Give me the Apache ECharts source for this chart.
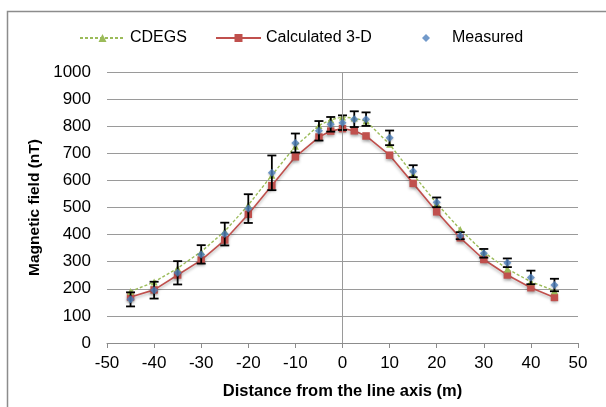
<!DOCTYPE html>
<html>
<head>
<meta charset="utf-8">
<script src="https://cdn.jsdelivr.net/npm/echarts@6/dist/echarts.min.js"></script>
<style>
html,body{margin:0;padding:0;background:#fff;}
#chart{width:606px;height:407px;}
</style>
</head>
<body>
<div id="chart"></div>
<script>
var distances = [-45,-40,-35,-30,-25,-20,-15,-10,-5,-2.5,0,2.5,5,10,15,20,25,30,35,40,45];
var cdegsValues = [190,225,276,337,412,509,619,726,803,824,834,830,819,733,622,515,419,335,273,226,193];
var calculatedValues = [170,196,251,306,380,475,581,687,760,782,791,783,764,693,589,484,388,308,251,204,168];
var measuredValues = [161,195,259,327,402,496,628,738,783,807,813,826,826,757,634,519,396,331,296,242,214];
var measuredErrors = [26,31,43,34,42,53,64,35,36,27,27,29,25,27,22,18,13,16,16,25,23];
var seriesNames = ['CDEGS','Calculated 3-D','Measured'];
var xTitle = 'Distance from the line axis (m)';
var yTitle = 'Magnetic field (nT)';

function pairs(vals){ return distances.map(function(d,i){ return [d, vals[i]]; }); }
var errData = distances.map(function(d,i){ return [d, measuredValues[i]-measuredErrors[i], measuredValues[i]+measuredErrors[i]]; });

var FONT = 'Liberation Sans, Arial, sans-serif';
var chart = echarts.init(document.getElementById('chart'), null, {renderer:'canvas'});
var legendText = {fontFamily: FONT, fontSize: 16, color: '#000'};
chart.setOption({
  animation: false,
  graphic: [{type:'rect', shape:{x:7.5,y:11.5,width:700,height:500}, style:{fill:'none', stroke:'#8c8c8c', lineWidth:1.5}, silent:true, z:-10}],
  legend: [
    {data:[seriesNames[0]], left:79, top:30, padding:0, itemWidth:45, itemHeight:10, itemGap:5, textStyle:legendText},
    {data:[seriesNames[1]], left:215, top:30, padding:0, itemWidth:45, itemHeight:10, itemGap:5, textStyle:legendText},
    {data:[{name:seriesNames[2], icon:'diamond'}], left:422, top:30, padding:0, itemWidth:8, itemHeight:8, itemGap:5,
     textStyle:{fontFamily: FONT, fontSize: 16, color: '#000', padding:[0,0,0,17]}}
  ],
  grid: {left:107, right:28, top:72, bottom:64, containLabel:false},
  xAxis: {
    type:'value', min:-50, max:50, interval:10,
    name: xTitle, nameLocation:'middle', nameGap:40,
    nameTextStyle:{fontFamily:FONT, fontSize:16.5, fontWeight:'bold', color:'#000'},
    axisLine:{show:true, onZero:false, lineStyle:{color:'#8c8c8c', width:1}},
    axisTick:{show:true, length:5, lineStyle:{color:'#8c8c8c'}},
    axisLabel:{fontFamily:FONT, fontSize:17, color:'#000', margin:12},
    splitLine:{show:false}
  },
  yAxis: {
    type:'value', min:0, max:1000, interval:100,
    name: yTitle, nameLocation:'middle', nameGap:64,
    nameTextStyle:{fontFamily:FONT, fontSize:15.5, fontWeight:'bold', color:'#000'},
    axisLine:{show:false}, axisTick:{show:false},
    axisLabel:{fontFamily:FONT, fontSize:17, color:'#000', margin:16, formatter:function(v){return String(v);}},
    splitLine:{show:true, lineStyle:{color:'#9a9a9a', width:1}}
  },
  series: [
    {
      name: seriesNames[1], type:'line', data: pairs(calculatedValues),
      symbol:'rect', symbolSize:7.5, showSymbol:true,
      lineStyle:{color:'#c0504d', width:1.6, shadowColor:'rgba(0,0,0,0.3)', shadowBlur:3, shadowOffsetY:2},
      itemStyle:{color:'#c0504d', shadowColor:'rgba(0,0,0,0.3)', shadowBlur:3, shadowOffsetY:2},
      z:2
    },
    {
      name: seriesNames[0], type:'line', data: pairs(cdegsValues),
      symbol:'triangle', symbolSize:7,
      lineStyle:{color:'#9bbb59', width:1.4, type:[3,2]},
      itemStyle:{color:'#9bbb59'},
      z:3,
      markLine:{silent:true, symbol:'none', label:{show:false}, lineStyle:{color:'#9a9a9a', width:1, type:'solid'}, data:[{xAxis:0}]}
    },
    {
      name:'errors', type:'custom', data: errData, z:4,
      renderItem: function(params, api){
        var x = api.value(0);
        var lo = api.coord([x, api.value(1)]);
        var hi = api.coord([x, api.value(2)]);
        var hw = 4.5;
        var st = {stroke:'#000', lineWidth:1.8};
        return {type:'group', children:[
          {type:'line', shape:{x1:lo[0],y1:lo[1],x2:hi[0],y2:hi[1]}, style:st},
          {type:'line', shape:{x1:lo[0]-hw,y1:lo[1],x2:lo[0]+hw,y2:lo[1]}, style:st},
          {type:'line', shape:{x1:hi[0]-hw,y1:hi[1],x2:hi[0]+hw,y2:hi[1]}, style:st}
        ]};
      }
    },
    {
      name: seriesNames[2], type:'scatter', data: pairs(measuredValues),
      symbol:'diamond', symbolSize:8,
      itemStyle:{color:'#4f81bd', shadowColor:'rgba(0,0,0,0.3)', shadowBlur:2, shadowOffsetY:1},
      z:5
    }
  ]
});
</script>
</body>
</html>
